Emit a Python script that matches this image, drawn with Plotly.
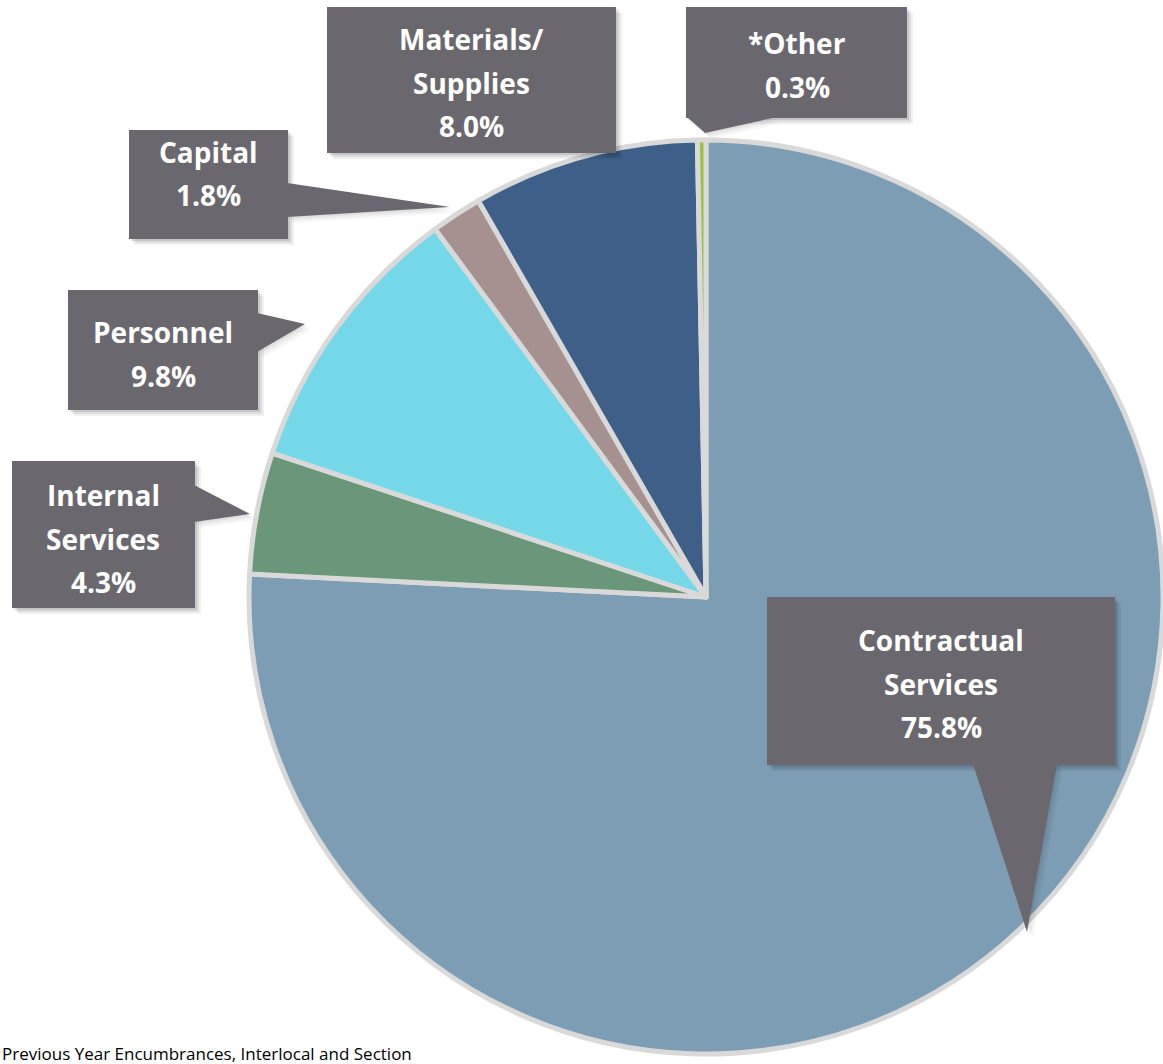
import plotly.graph_objects as go

# Budget shares by expense category (percent of total)
categories = ["Contractual Services", "Internal Services", "Personnel",
              "Capital", "Materials/Supplies", "*Other"]
shares = [75.8, 4.3, 9.8, 1.8, 8.0, 0.3]
label_lines = [["Contractual", "Services"], ["Internal", "Services"], ["Personnel"],
               ["Capital"], ["Materials/", "Supplies"], ["*Other"]]
slice_colors = ["#7D9DB4", "#6A9679", "#74D8E8", "#A69191", "#3D5F88", "#9DC33B"]
footnote = "Previous Year Encumbrances, Interlocal and Section"

W, H = 1163, 1064
BOX = "#6A686E"


def px(x):
    return x / W


def py(y):
    return 1 - y / H


def path(points):
    return "M " + " L ".join(f"{px(x):.5f},{py(y):.5f}" for x, y in points) + " Z"


# Callout geometry in page pixels: box (x0, y0, x1, y1), pointer polygon, text centre x, first line y
callouts = {
    "Contractual Services": dict(box=(767, 597, 1115, 765),
                                 ptr=[(973, 764), (1057, 764), (1027, 932)], cx=941, y0=638),
    "Internal Services": dict(box=(12, 461, 195, 608),
                              ptr=[(194, 485), (250, 514), (194, 522)], cx=103, y0=493),
    "Personnel": dict(box=(68, 290, 258, 410),
                      ptr=[(257, 313), (305, 324), (257, 352)], cx=163, y0=330),
    "Capital": dict(box=(129, 130, 288, 239),
                    ptr=[(287, 183), (450, 207), (287, 217)], cx=208, y0=150),
    "Materials/Supplies": dict(box=(327, 7, 616, 153), ptr=None, cx=471, y0=37),
    "*Other": dict(box=(686, 7, 907, 118),
                   ptr=[(687, 117), (777, 117), (705, 133)], cx=797, y0=41),
}
LINE_GAP = 43.5

fig = go.Figure()
fig.add_trace(go.Pie(
    labels=categories,
    values=shares,
    sort=False,
    direction="clockwise",
    rotation=0,
    marker=dict(colors=slice_colors, line=dict(color="#D9D9D9", width=5)),
    textinfo="none",
    showlegend=False,
    domain=dict(x=[249 / W, 1.0], y=[1 - 1055 / H, 1 - 139 / H]),
))

shapes = []
annotations = []
for name, value, lines in zip(categories, shares, label_lines):
    c = callouts[name]
    x0, y0, x1, y1 = c["box"]
    outline = [(x0, y0), (x1, y0), (x1, y1), (x0, y1)]
    # soft drop shadow made of a few offset layers
    for off, alpha in [(6, 0.06), (4, 0.08), (2, 0.10)]:
        shapes.append(dict(type="path", xref="paper", yref="paper", layer="above",
                           path=path([(x + off, y + off) for x, y in outline]),
                           fillcolor=f"rgba(0,0,0,{alpha})", line=dict(width=0)))
        if c["ptr"]:
            shapes.append(dict(type="path", xref="paper", yref="paper", layer="above",
                               path=path([(x + off, y + off) for x, y in c["ptr"]]),
                               fillcolor=f"rgba(0,0,0,{alpha / 2})", line=dict(width=0)))
    shapes.append(dict(type="path", xref="paper", yref="paper", layer="above",
                       path=path(outline), fillcolor=BOX, line=dict(width=0)))
    if c["ptr"]:
        shapes.append(dict(type="path", xref="paper", yref="paper", layer="above",
                           path=path(c["ptr"]), fillcolor=BOX, line=dict(width=0)))
    text_lines = lines + [f"{value:.1f}%"]
    for i, t in enumerate(text_lines):
        annotations.append(dict(
            x=px(c["cx"]), y=py(c["y0"] + i * LINE_GAP + 2), xref="paper", yref="paper",
            text=f"<b>{t}</b>", showarrow=False, xanchor="center", yanchor="middle",
            font=dict(family="Open Sans", size=28, color="white"),
        ))

annotations.append(dict(
    x=0, y=py(1040), xref="paper", yref="paper", xanchor="left", yanchor="top",
    text=footnote, showarrow=False,
    font=dict(family="Open Sans", size=17, color="#000000"),
))

fig.update_layout(
    width=W, height=H,
    margin=dict(l=0, r=0, t=0, b=0),
    paper_bgcolor="white",
    plot_bgcolor="white",
    shapes=shapes,
    annotations=annotations,
)

fig.write_html("out.html")
